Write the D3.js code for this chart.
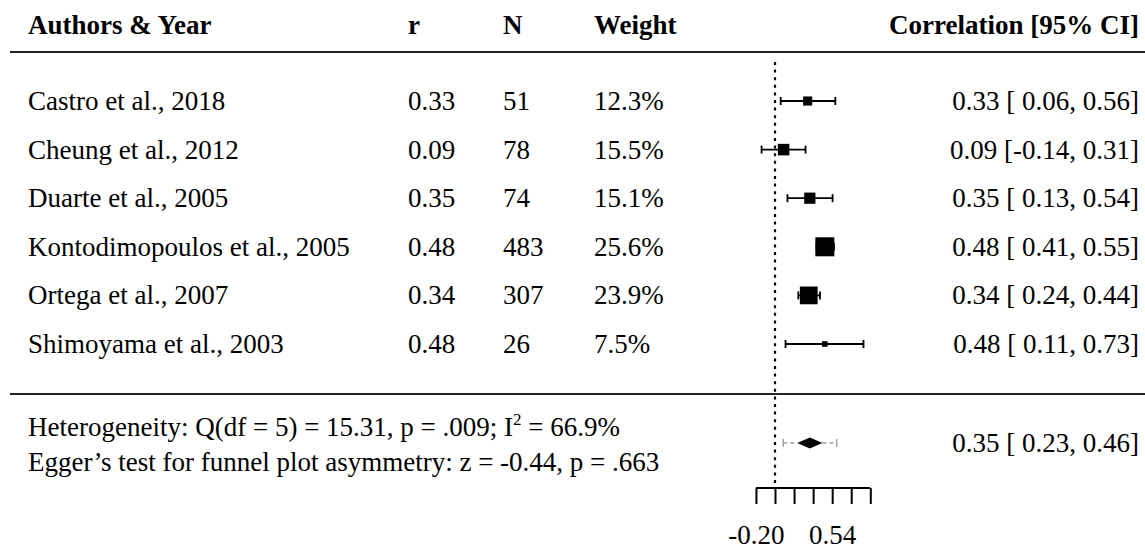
<!DOCTYPE html>
<html>
<head>
<meta charset="utf-8">
<script src="https://cdn.jsdelivr.net/npm/d3@7"></script>
<style>
  html, body { margin: 0; padding: 0; background: #fff; }
  svg text { font-family: 'Liberation Serif', 'Times New Roman', serif; fill: #000; }
  .head { font-weight: bold; }
</style>
</head>
<body>
<div class="chart"></div>
<script>
const WIDTH = 1145
const HEIGHT = 552
const FONT_SIZE = 27

// study level data
const authors = ['Castro et al., 2018', 'Cheung et al., 2012', 'Duarte et al., 2005', 'Kontodimopoulos et al., 2005', 'Ortega et al., 2007', 'Shimoyama et al., 2003']
const rValues = [0.33, 0.09, 0.35, 0.48, 0.34, 0.48]
const nValues = [51, 78, 74, 483, 307, 26]
const weights = [12.3, 15.5, 15.1, 25.6, 23.9, 7.5]
const ciLower = [0.06, -0.14, 0.13, 0.41, 0.24, 0.11]
const ciUpper = [0.56, 0.31, 0.54, 0.55, 0.44, 0.73]

// pooled estimate + prediction interval
const pooled = { r: 0.35, lower: 0.23, upper: 0.46, piLower: 0.087, piUpper: 0.57 }
const heterogeneity = { df: 5, q: '15.31', p: '.009', i2: '66.9%' }
const egger = { z: '-0.44', p: '.663' }

// axis on the fisher z scale
const axisTicks = [-0.2, 0, 0.2, 0.4, 0.6, 0.8, 1.0]
const axisLabels = { '-0.2': '-0.20', '0.6': '0.54' }

const headers = ['Authors & Year', 'r', 'N', 'Weight', 'Correlation [95% CI]']

const rows = authors.map((a, i) => ({
  author: a,
  r: rValues[i],
  n: nValues[i],
  w: weights[i],
  lo: ciLower[i],
  hi: ciUpper[i]
}))

// plain hyphen for negatives, like the original table
const fmt = v => d3.format('.2f')(v).replace('\u2212', '-')
function fmtCI (v) {
  return v < 0 ? fmt(v) : ' ' + fmt(v)
}

const col = { author: 28, r: 408, n: 503, w: 594, ci: 1139 }

const scaleX = d3.scaleLinear().domain([0, 1]).range([775, 870.3])
const scaleY = d3.scalePoint().domain(d3.range(rows.length)).range([101, 344])
const scaleS = d3.scaleLinear().domain([0, d3.max(weights)]).range([0, 19])

const svg = d3.select('.chart').append('svg')
  .attr('width', WIDTH)
  .attr('height', HEIGHT)
  .style('font-size', FONT_SIZE + 'px')

// header
const headerY = 34
const headX = [col.author, col.r, col.n, col.w]
headers.slice(0, 4).forEach((h, i) => {
  svg.append('text').attr('class', 'head')
    .attr('x', headX[i]).attr('y', headerY).text(h)
})
svg.append('text').attr('class', 'head')
  .attr('x', col.ci).attr('y', headerY)
  .attr('text-anchor', 'end')
  .text(headers[4])

// rules
svg.selectAll('line.rule').data([52, 394])
  .enter().append('line')
  .attr('class', 'rule')
  .attr('x1', 10).attr('x2', WIDTH)
  .attr('y1', d => d).attr('y2', d => d)
  .attr('stroke', '#222').attr('stroke-width', 2)

// reference line at zero
svg.append('line')
  .attr('x1', scaleX(0)).attr('x2', scaleX(0))
  .attr('y1', 62).attr('y2', 488)
  .attr('stroke', '#000').attr('stroke-width', 2.2)
  .attr('stroke-dasharray', '3,4.6')

// study rows
const g = svg.append('g').attr('class', 'g-rows')
const row = g.selectAll('g.row').data(rows)
  .enter().append('g').attr('class', 'row')
  .attr('transform', (d, i) => `translate(0, ${scaleY(i)})`)

row.append('text').attr('x', col.author).attr('y', 9).text(d => d.author)
row.append('text').attr('x', col.r).attr('y', 9).text(d => fmt(d.r))
row.append('text').attr('x', col.n).attr('y', 9).text(d => d.n)
row.append('text').attr('x', col.w).attr('y', 9).text(d => d.w.toFixed(1) + '%')
row.append('text').attr('x', col.ci).attr('y', 9)
  .attr('text-anchor', 'end')
  .style('white-space', 'pre')
  .text(d => `${fmt(d.r)} [${fmtCI(d.lo)}, ${fmt(d.hi)}]`)

const z = Math.atanh
row.append('line')
  .attr('x1', d => scaleX(z(d.lo))).attr('x2', d => scaleX(z(d.hi)))
  .attr('y1', 0).attr('y2', 0)
  .attr('stroke', '#000').attr('stroke-width', 1.8)
row.selectAll('line.cap').data(d => [d.lo, d.hi])
  .enter().append('line').attr('class', 'cap')
  .attr('x1', d => scaleX(z(d))).attr('x2', d => scaleX(z(d)))
  .attr('y1', -4).attr('y2', 4)
  .attr('stroke', '#000').attr('stroke-width', 1.8)
row.append('rect')
  .attr('x', d => scaleX(z(d.r)) - scaleS(d.w) / 2)
  .attr('y', d => -scaleS(d.w) / 2)
  .attr('width', d => scaleS(d.w))
  .attr('height', d => scaleS(d.w))
  .attr('fill', '#000')

// summary
const sumY = 443
const piG = svg.append('g').attr('class', 'g-summary')
piG.append('line')
  .attr('x1', scaleX(z(pooled.piLower))).attr('x2', scaleX(z(pooled.lower)))
  .attr('y1', sumY).attr('y2', sumY)
  .attr('stroke', '#999').attr('stroke-width', 1.3).attr('stroke-dasharray', '4,3')
piG.append('line')
  .attr('x1', scaleX(z(pooled.upper))).attr('x2', scaleX(z(pooled.piUpper)))
  .attr('y1', sumY).attr('y2', sumY)
  .attr('stroke', '#999').attr('stroke-width', 1.3).attr('stroke-dasharray', '4,3')
piG.selectAll('line.picap').data([pooled.piLower, pooled.piUpper])
  .enter().append('line').attr('class', 'picap')
  .attr('x1', d => scaleX(z(d))).attr('x2', d => scaleX(z(d)))
  .attr('y1', sumY - 4).attr('y2', sumY + 4)
  .attr('stroke', '#999').attr('stroke-width', 1.3)

const dx = [z(pooled.lower), z(pooled.r), z(pooled.upper), z(pooled.r)]
const dy = [0, -5.5, 0, 5.5]
piG.append('path')
  .attr('d', d3.line()(dx.map((v, i) => [scaleX(v), sumY + dy[i]])) + 'Z')
  .attr('fill', '#000')

svg.append('text')
  .attr('x', col.ci).attr('y', sumY + 9)
  .attr('text-anchor', 'end')
  .style('white-space', 'pre')
  .text(`${fmt(pooled.r)} [${fmtCI(pooled.lower)}, ${fmt(pooled.upper)}]`)

const het = svg.append('text').attr('x', col.author).attr('y', 436)
het.append('tspan').text(`Heterogeneity: Q(df = ${heterogeneity.df}) = ${heterogeneity.q}, p = ${heterogeneity.p}; I`)
het.append('tspan').attr('dy', -11).style('font-size', '17px').text('2')
het.append('tspan').attr('dy', 11).text(` = ${heterogeneity.i2}`)

svg.append('text').attr('x', col.author).attr('y', 471)
  .text(`Egger\u2019s test for funnel plot asymmetry: z = ${egger.z}, p = ${egger.p}`)

// x axis
const axisG = svg.append('g').attr('class', 'axis axis--x')
  .attr('transform', 'translate(0, 488)')
axisG.call(d3.axisBottom(scaleX)
  .tickValues(axisTicks)
  .tickSizeOuter(0)
  .tickSizeInner(16)
  .tickFormat(d => axisLabels[String(d)] || ''))
axisG.select('.domain')
  .attr('stroke', '#000').attr('stroke-width', 2)
  .attr('d', `M${scaleX(axisTicks[0])},0H${scaleX(axisTicks[axisTicks.length - 1])}`)
axisG.selectAll('.tick line').attr('stroke', '#000').attr('stroke-width', 2)
axisG.selectAll('.tick text')
  .attr('y', 56)
  .attr('dy', null)
  .style('font-family', "'Liberation Serif', 'Times New Roman', serif")
  .style('font-size', FONT_SIZE + 'px')
  .attr('fill', '#000')
</script>
</body>
</html>
